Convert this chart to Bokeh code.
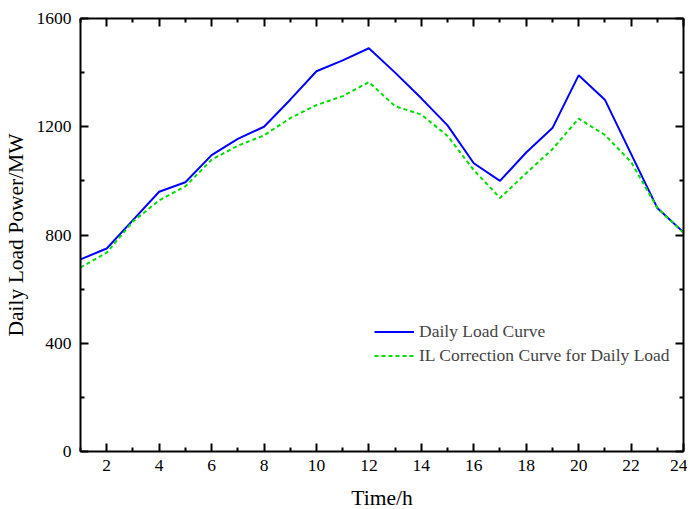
from bokeh.plotting import figure
from bokeh.models import Range1d, FixedTicker, LinearAxis, Legend, LegendItem, CustomJSTickFormatter
from bokeh.embed import file_html
from bokeh.resources import INLINE

hours = list(range(1, 25))
daily_load = [710, 750, 855, 960, 995, 1095, 1155, 1200, 1300, 1405, 1445, 1490,
              1400, 1305, 1205, 1065, 1000, 1105, 1195, 1390, 1300, 1100, 900, 810]
il_corrected = [680, 735, 850, 928, 980, 1078, 1130, 1168, 1232, 1280, 1313, 1365,
                1276, 1245, 1166, 1040, 937, 1028, 1117, 1230, 1170, 1070, 900, 808]
x_major = [2, 4, 6, 8, 10, 12, 14, 16, 18, 20, 22, 24]
x_minor = [1, 3, 5, 7, 9, 11, 13, 15, 17, 19, 21, 23]
y_major = [0, 400, 800, 1200, 1600]
y_minor = [200, 600, 1000, 1400]

FONT = "Liberation Serif"

p = figure(frame_width=603, frame_height=433, output_backend="svg",
           toolbar_location=None, x_range=Range1d(1, 24), y_range=Range1d(0, 1600),
           min_border_left=80, min_border_top=18, min_border_right=4, min_border_bottom=10)
p.grid.visible = False
p.outline_line_color = None
p.background_fill_color = "white"
p.border_fill_color = "white"

def style(ax, ticks, minor, labels=True):
    ax.ticker = FixedTicker(ticks=ticks, minor_ticks=minor)
    ax.axis_line_color = "black"
    ax.axis_line_width = 2
    ax.major_tick_line_color = "black"
    ax.major_tick_line_width = 2
    ax.minor_tick_line_color = "black"
    ax.minor_tick_line_width = 2
    ax.major_tick_in = 8
    ax.major_tick_out = 0
    ax.minor_tick_in = 4
    ax.minor_tick_out = 0
    ax.major_label_text_font = FONT
    ax.major_label_text_font_size = "17.5px"
    ax.major_label_text_color = "black"
    ax.axis_label_text_font = FONT
    ax.axis_label_text_font_size = "21.5px"
    ax.axis_label_text_font_style = "normal"
    ax.axis_label_text_color = "black"
    if not labels:
        ax.formatter = CustomJSTickFormatter(code="return '';")
        ax.major_label_standoff = 0

xa = p.xaxis[0]
ya = p.yaxis[0]
style(xa, x_major, x_minor)
style(ya, y_major, y_minor)
xa.axis_label = "Time/h"
ya.axis_label = "Daily Load Power/MW"
xa.major_label_standoff = 8
ya.major_label_standoff = 9
xa.axis_label_standoff = 12
ya.axis_label_standoff = 6

top = LinearAxis()
style(top, x_major, x_minor, labels=False)
right = LinearAxis()
style(right, y_major, y_minor, labels=False)
p.add_layout(top, "above")
p.add_layout(right, "right")

r1 = p.line(hours, daily_load, line_color="#0000ff", line_width=2)
r2 = p.line(hours, il_corrected, line_color="#00dd00", line_width=2, line_dash="4 3")

legend = Legend(items=[LegendItem(label="Daily Load Curve", renderers=[r1]),
                       LegendItem(label="IL Correction Curve for Daily Load", renderers=[r2])],
                location=(294, 85))
legend.border_line_color = None
legend.background_fill_alpha = 0
legend.label_text_font = FONT
legend.label_text_font_size = "17.5px"
legend.glyph_width = 40
legend.label_standoff = 5
legend.spacing = 3
legend.label_height = 21
legend.glyph_height = 21
p.add_layout(legend, "center")

open("out.html", "w").write(file_html(p, INLINE))
